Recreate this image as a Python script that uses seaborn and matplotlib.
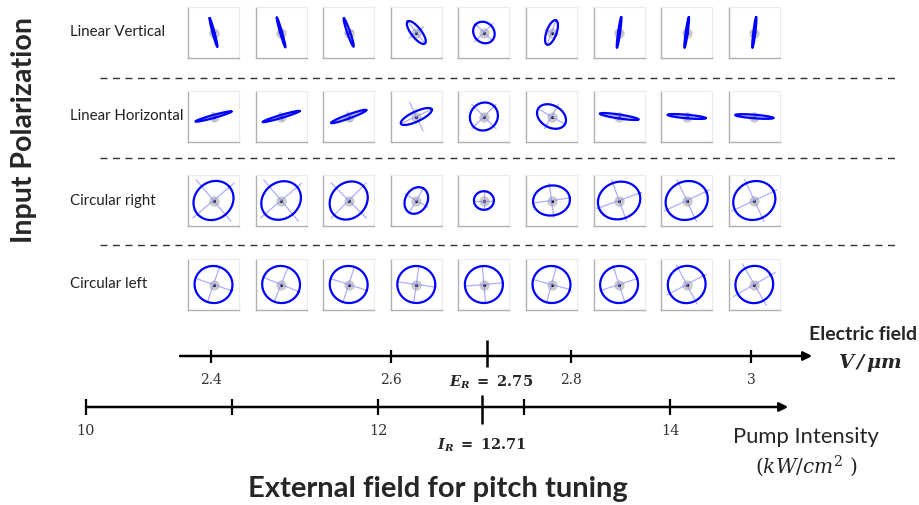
import numpy as np
import seaborn as sns
import matplotlib.pyplot as plt

# polarization rows and the 9 field steps (ellipse semi-axes in px, angle in deg)
rows = ["Linear Vertical", "Linear Horizontal", "Circular right", "Circular left"]

major = np.array([
    [15, 15.5, 15, 14, 11.5, 13, 15.5, 15.5, 15.5],
    [18.7, 19.3, 18.8, 17, 14.5, 15.5, 19.5, 19.2, 19.2],
    [21, 21, 20.5, 14, 10, 18.5, 21.5, 21.5, 21.5],
    [19, 19, 19, 19, 19, 19, 19, 19, 19],
])
minor = np.array([
    [1, 1, 1.5, 5, 10, 5, 1, 1, 1],
    [1.5, 1.5, 2, 5, 13.5, 11, 2, 1.8, 1.8],
    [18.5, 18, 17.5, 11, 9.3, 15, 18.5, 19, 19],
    [18.5, 18.5, 18.5, 18.5, 18.5, 18.5, 18.5, 18.5, 18.5],
])
angle = np.array([
    [105, 106, 109, 128, 135, 70, 82, 82, 83],
    [15.5, 16.5, 20, 25, 45, -30, -8.5, -5, -4.5],
    [40, 40, 45, 60, 0, 8, 20, 25, 25],
    [-19, -22, -18, -8, 5, -15, 18, 28, 30],
])
cross_major = np.array([
    [15, 15.5, 15, 14, 12, 13, 15.5, 15.5, 15.5],
    [18.7, 19.3, 18.8, 17, 17, 16, 19.5, 19.2, 19.2],
    [27, 27, 25, 15, 10, 19, 24, 25, 25],
    [19, 19, 19, 19, 19, 19, 20, 22, 24],
])
cross_minor = np.array([
    [3, 3, 4, 9, 13, 7, 3, 3, 3],
    [4, 4, 5, 16, 17, 14, 3, 3, 3],
    [27, 27, 25, 13, 9, 17, 22, 23, 23],
    [19, 19, 19, 19, 19, 19, 20, 22, 24],
])

# bottom scales
e_ticks = [2.4, 2.6, 2.8, 3.0]
e_labels = ["2.4", "2.6", "2.8", "3"]
e_res = 2.707
e_res_label = r"$\mathbf{E_R}\mathsf{\ =\ 2.75}$"
p_ticks = [10, 11, 12, 13, 14]
p_labels = ["10", "", "12", "", "14"]
p_res = 12.71
p_res_label = r"$\mathbf{I_R}\mathsf{\ =\ 12.71}$"

sns.set_theme(style="white")
plt.rcParams["font.family"] = ["Lato", "DejaVu Sans"]
plt.rcParams["mathtext.fontset"] = "custom"
plt.rcParams["mathtext.rm"] = "DejaVu Serif"
plt.rcParams["mathtext.it"] = "DejaVu Serif:italic"
plt.rcParams["mathtext.bf"] = "DejaVu Serif:bold:italic"
plt.rcParams["mathtext.sf"] = "DejaVu Serif:bold"

W, H = 920, 505
fig = plt.figure(figsize=(9.2, 5.05), dpi=100)

# overlay in pixel coords for labels and separators
over = fig.add_axes([0, 0, 1, 1])
over.set_xlim(0, W)
over.set_ylim(H, 0)
over.axis("off")
over.hlines([78, 158, 245], 100, 895, colors="#333333", lw=1, linestyles=(0, (5, 4)))
for j, name in enumerate(rows):
    over.text(70, 32.5 + 84 * j, name, fontsize=10.8, ha="left", va="center", color="#222222")
over.text(24, 130, "Input Polarization", rotation=90, fontsize=20.5, fontweight="bold",
          ha="center", va="center")
over.text(438, 489, "External field for pitch tuning", fontsize=21, fontweight="bold",
          ha="center", va="center")
over.text(917, 335, "Electric field", fontsize=14, fontweight="bold", ha="right", va="center")
over.text(870, 363, r"$\mathbf{V\,/\,\mu m}$", fontsize=14, ha="center", va="center")
over.text(806, 437, "Pump Intensity", fontsize=15.8, ha="center", va="center")
over.text(806, 466, r"$(kW/cm^2\ )$", fontsize=14.5, ha="center", va="center")

# polarization ellipse insets
t = np.linspace(0, 2 * np.pi, 200)
for j in range(4):
    for i in range(9):
        left = 188 + 67.6 * i
        top = 7 + 84 * j
        ax = fig.add_axes([left / W, 1 - (top + 51) / H, 51 / W, 51 / H])
        a, b, th = major[j, i], minor[j, i], np.deg2rad(angle[j, i])
        ca, cb = cross_major[j, i], cross_minor[j, i]
        ax.plot([-ca * np.cos(th), ca * np.cos(th)], [-ca * np.sin(th), ca * np.sin(th)],
                color="#8c8cff", lw=0.9, alpha=0.7)
        ax.plot([cb * np.sin(th), -cb * np.sin(th)], [-cb * np.cos(th), cb * np.cos(th)],
                color="#8c8cff", lw=0.9, alpha=0.7)
        ex = a * np.cos(t) * np.cos(th) - b * np.sin(t) * np.sin(th)
        ey = a * np.cos(t) * np.sin(th) + b * np.sin(t) * np.cos(th)
        sns.lineplot(x=ex, y=ey, sort=False, estimator=None, color="#0000ff", lw=1.6, ax=ax)
        sns.scatterplot(x=[0], y=[0], s=55, color="#888888", alpha=0.45, linewidth=0, ax=ax)
        sns.scatterplot(x=[0], y=[0], s=5, color="black", linewidth=0, ax=ax)
        ax.set_xlim(-25.5, 25.5)
        ax.set_ylim(-25.5, 25.5)
        ax.set_xticks([])
        ax.set_yticks([])
        for side in ["left", "bottom"]:
            ax.spines[side].set_color("#b0b0b0")
            ax.spines[side].set_linewidth(1.0)
        for side in ["top", "right"]:
            ax.spines[side].set_color("#ececec")
            ax.spines[side].set_linewidth(0.8)

# electric field axis (900 px per V/um, 2.4 at x=211)
ax_e = fig.add_axes([0, 0, 1, 1])
ax_e.patch.set_alpha(0)
ax_e.axis("off")
e_lo = 2.4 - 211 / 900
ax_e.set_xlim(e_lo, e_lo + W / 900)
ax_e.set_ylim(H, 0)
ax_e.annotate("", xy=(3.068, 356), xytext=(2.3656, 356),
              arrowprops=dict(arrowstyle="-|>", lw=1.8, color="black", mutation_scale=13,
                              shrinkA=0, shrinkB=0))
ax_e.vlines(e_ticks, 350, 363, colors="black", lw=1.6)
ax_e.vlines([e_res], 340, 367, colors="black", lw=1.8)
for v, lab in zip(e_ticks, e_labels):
    ax_e.text(v, 380, lab, fontsize=10, family="DejaVu Serif", ha="center", va="center",
              color="#333333")
ax_e.text(e_res + 0.004, 382, e_res_label, fontsize=10.5, ha="center", va="center")

# pump intensity axis (146 px per kW/cm2, 10 at x=86)
ax_p = fig.add_axes([0, 0, 1, 1])
ax_p.patch.set_alpha(0)
ax_p.axis("off")
p_lo = 10 - 86 / 146
ax_p.set_xlim(p_lo, p_lo + W / 146)
ax_p.set_ylim(H, 0)
ax_p.annotate("", xy=(14.81, 407), xytext=(10, 407),
              arrowprops=dict(arrowstyle="-|>", lw=1.8, color="black", mutation_scale=13,
                              shrinkA=0, shrinkB=0))
ax_p.vlines(p_ticks, 399, 415, colors="black", lw=1.6)
ax_p.vlines([p_res], 395, 424, colors="black", lw=1.8)
for v, lab in zip(p_ticks, p_labels):
    ax_p.text(v, 431, lab, fontsize=10.5, family="DejaVu Serif", ha="center", va="center",
              color="#333333")
ax_p.text(p_res, 445, p_res_label, fontsize=10.5, ha="center", va="center")

fig.savefig("out.png", dpi=100)
plt.close(fig)
